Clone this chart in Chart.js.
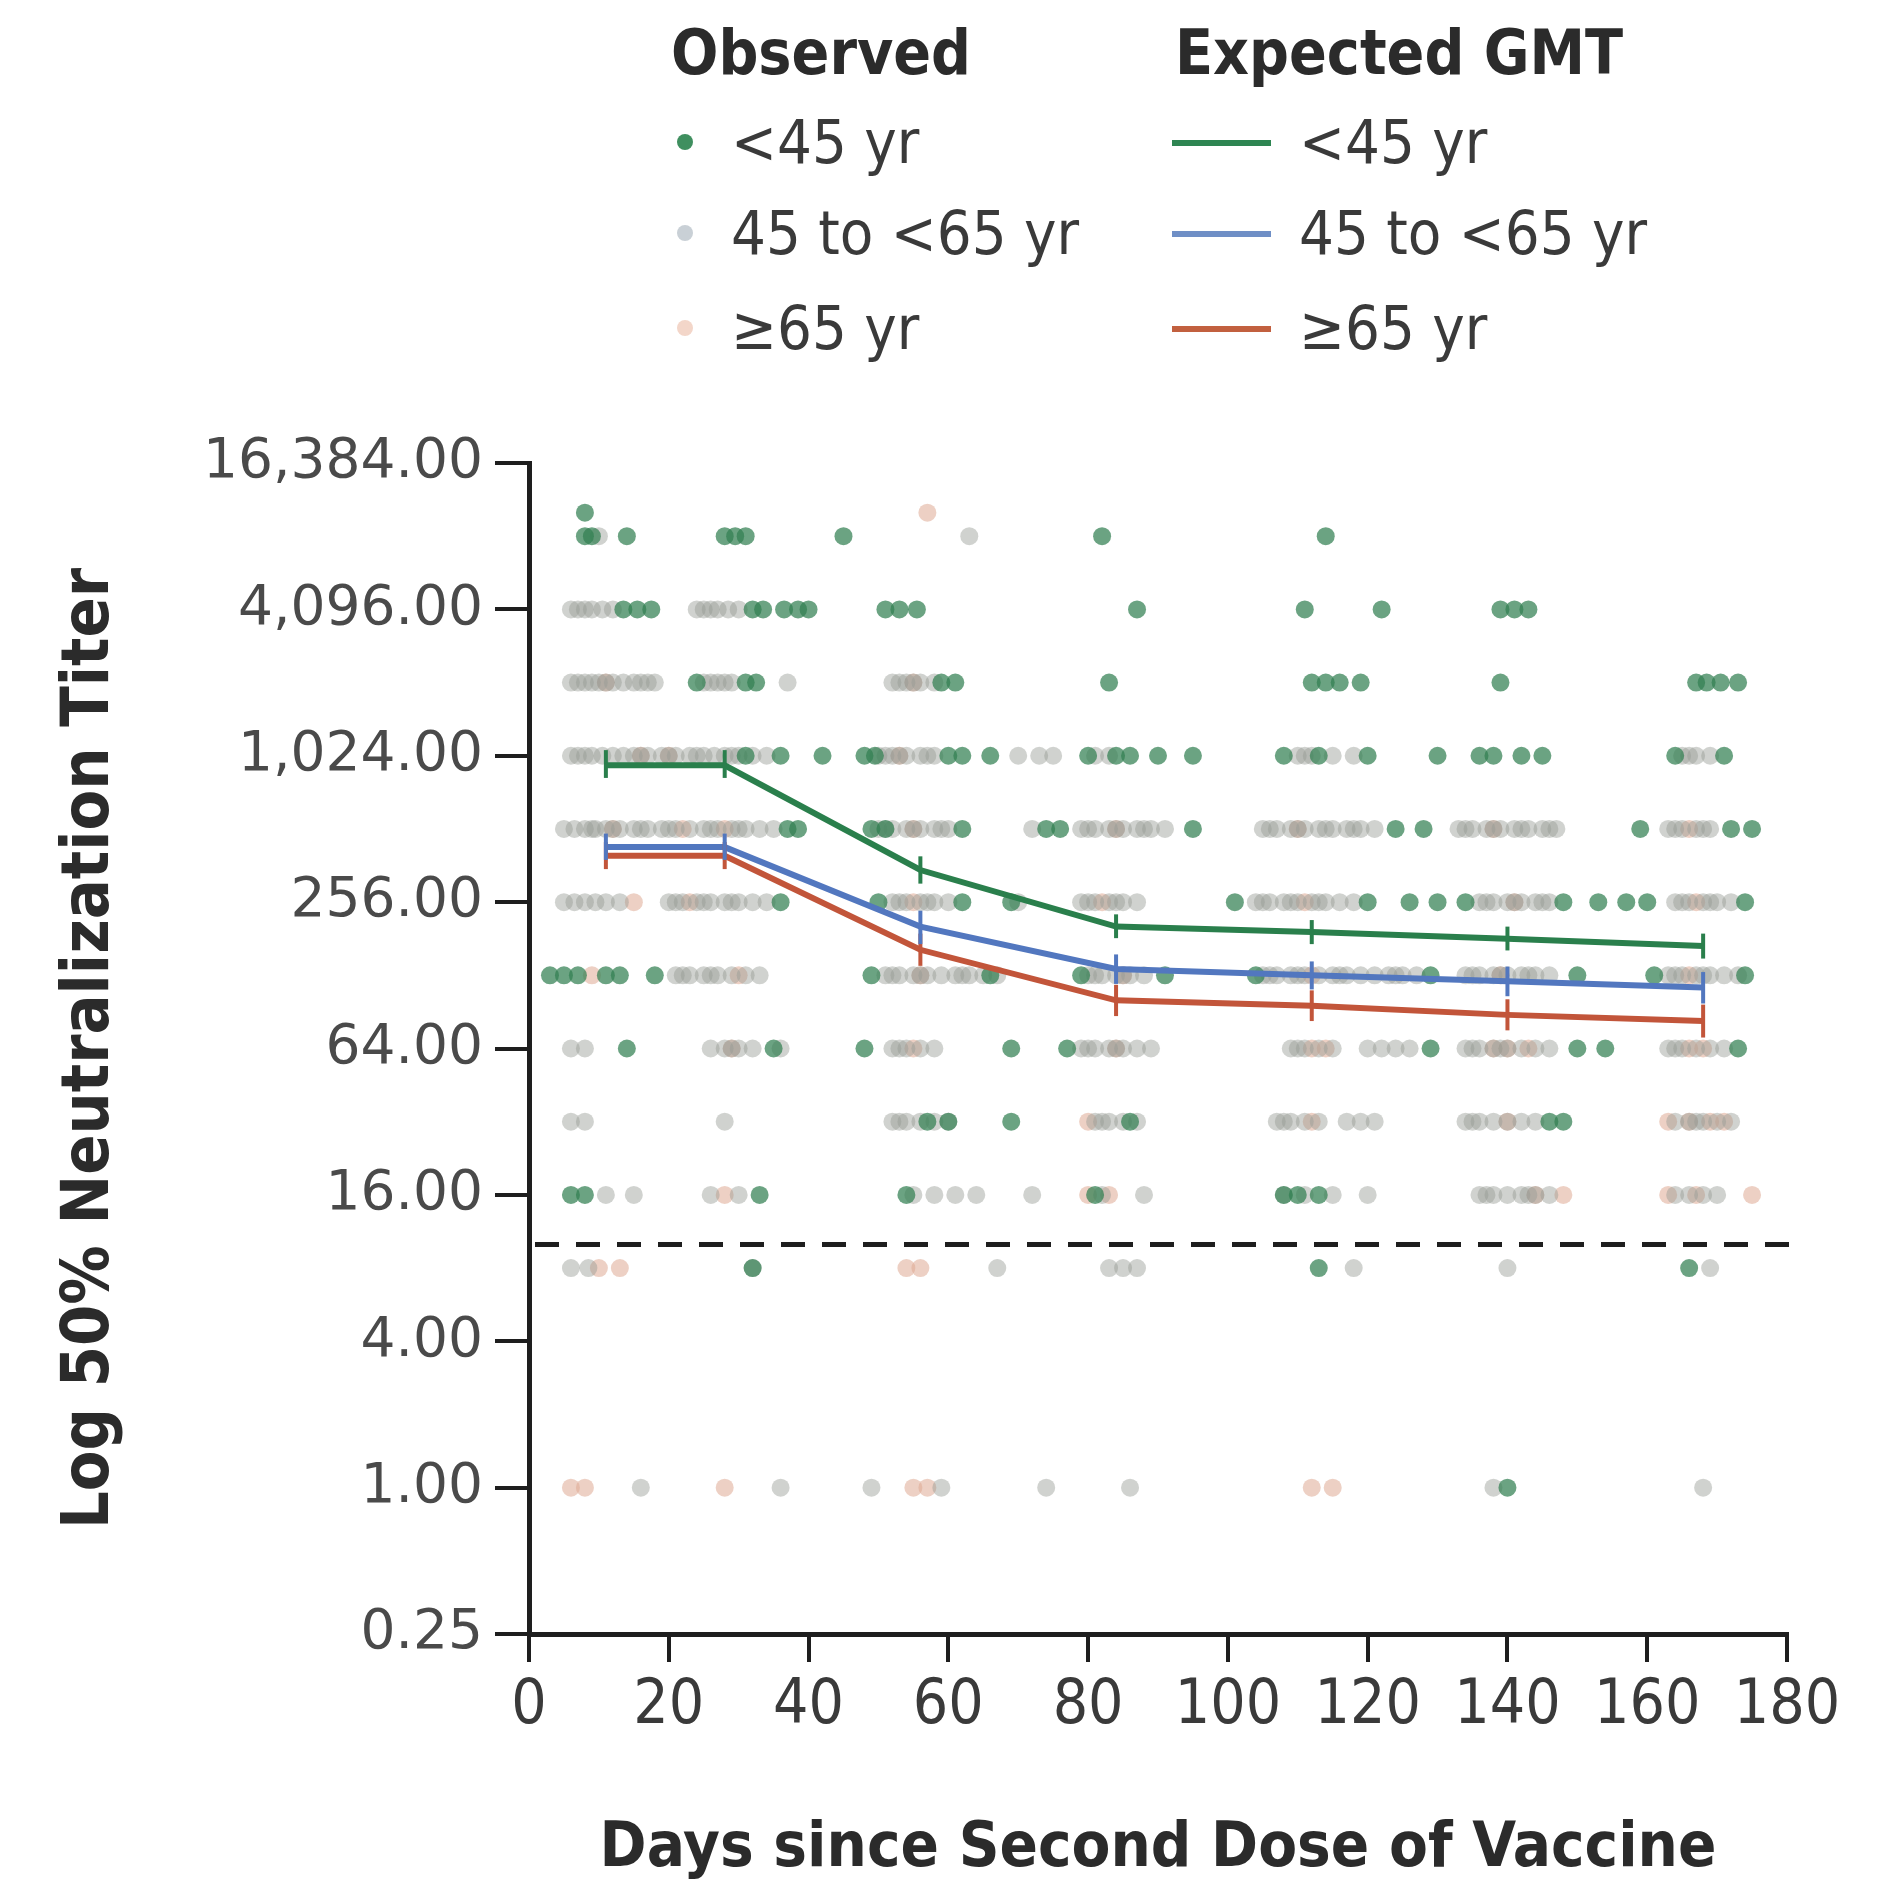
<!DOCTYPE html>
<html>
<head>
<meta charset="utf-8">
<script src="https://cdn.jsdelivr.net/npm/chart.js@4/dist/chart.umd.min.js"></script>
<style>
  body { margin: 0; background: #fff; }
  #wrap { position: relative; width: 1895px; height: 1889px; }
  canvas { position: absolute; left: 0; top: 0; }
  .lg { position: absolute; font-family: "DejaVu Sans Condensed", "DejaVu Sans", sans-serif; font-size: 61px; line-height: 70px; color: #3a3a3a; white-space: nowrap; }
  .hdr { font-weight: bold; font-size: 62px; color: #2b2b2b; }
  .dot { position: absolute; width: 16px; height: 16px; border-radius: 50%; }
  .sw { position: absolute; width: 99px; height: 6px; }
</style>
</head>
<body>
<div id="wrap">
  <canvas id="chartTiter" width="1895" height="1889"></canvas>

  <div class="lg hdr" style="left:671px; top:18px;">Observed</div>
  <div class="lg hdr" style="left:1175px; top:18px;">Expected GMT</div>

  <span class="dot" style="left:677px; top:134px; background:#3f8f5f;"></span>
  <div class="lg" style="left:731px; top:107px;">&lt;45 yr</div>
  <span class="dot" style="left:677px; top:225px; background:#c9d0d6;"></span>
  <div class="lg" style="left:731px; top:198px;">45 to &lt;65 yr</div>
  <span class="dot" style="left:677px; top:320px; background:#f3d6c9;"></span>
  <div class="lg" style="left:731px; top:293px;">≥65 yr</div>

  <div class="sw" style="left:1172px; top:140px; background:#2e8552;"></div>
  <div class="lg" style="left:1299px; top:107px;">&lt;45 yr</div>
  <div class="sw" style="left:1172px; top:231px; background:#6f8fc6;"></div>
  <div class="lg" style="left:1299px; top:198px;">45 to &lt;65 yr</div>
  <div class="sw" style="left:1172px; top:326px; background:#c2603f;"></div>
  <div class="lg" style="left:1299px; top:293px;">≥65 yr</div>
</div>

<script>
// === Ejes ===
const yTicks = [0.25, 1, 4, 16, 64, 256, 1024, 4096, 16384];
const xTicks = [0, 20, 40, 60, 80, 100, 120, 140, 160, 180];
const lloq = 10;

// === Expected GMT (con IC) ===
const gmtDays = [11, 28, 56, 84, 112, 140, 168];
const gmtYoung = [935, 935, 347, 203, 193, 181, 169];
const gmtYoungLo = [830, 830, 305, 182, 172, 162, 150];
const gmtYoungHi = [1080, 1080, 395, 228, 216, 203, 190];
const gmtMid = [431, 431, 203, 136, 128, 121, 114];
const gmtMidLo = [382, 382, 172, 118, 112, 105, 98];
const gmtMidHi = [490, 490, 236, 156, 146, 139, 132];
const gmtOld = [397, 397, 163, 101, 96, 88, 83];
const gmtOldLo = [350, 350, 140, 87, 83, 76, 71];
const gmtOldHi = [452, 452, 190, 117, 111, 102, 97];

// === Observados: [titulo, [dias]] ===
const obsYoung = [
  [10240, [8]],
  [8192, [8, 9, 14, 28, 29.5, 31, 45, 82, 114]],
  [4096, [13.5, 15.5, 17.5, 32, 33.5, 36.5, 38.5, 40, 51, 53, 55.5, 87, 111, 122, 139, 141, 143]],
  [2048, [24, 31, 32.5, 59, 61, 83, 112, 114, 116, 119, 139, 167, 168.5, 170.5, 173]],
  [1024, [31, 36, 42, 48, 49.5, 60, 62, 66, 80, 84, 86, 90, 95, 108, 113, 120, 130, 136, 138, 142, 145, 164, 171]],
  [512, [37, 38.5, 49, 51, 62, 74, 76, 95, 124, 128, 159, 172, 175]],
  [256, [36, 50, 62, 69, 101, 120, 126, 130, 134, 148, 153, 157, 160, 174]],
  [128, [3, 5, 7, 11, 13, 18, 49, 66, 79, 91, 104, 129, 150, 161, 174]],
  [64, [14, 35, 48, 69, 77, 129, 150, 154, 173]],
  [32, [57, 60, 69, 86, 146, 148]],
  [16, [6, 8, 33, 54, 81, 108, 110, 113]],
  [8, [32, 113, 166]],
  [1, [140]]
];
const obsMid = [
  [8192, [10, 63]],
  [4096, [6, 7, 8, 9, 10.5, 12, 24, 25, 26, 27, 28.5, 30]],
  [2048, [6, 7, 8, 9, 10, 11, 12, 13.5, 15, 16, 17, 18, 25, 26, 27, 28, 29, 37, 52, 53, 54, 55, 56, 58]],
  [1024, [6, 7, 8, 9, 10.5, 12, 13.5, 15, 16, 17, 19, 20, 21, 23, 24, 25, 26.5, 28, 29, 30, 32, 34, 50, 51, 52, 53, 54, 56, 57, 58, 70, 73, 75, 81, 83, 110, 111, 112, 115, 118, 165, 166, 167, 169]],
  [512, [5, 6.5, 8, 9, 9.5, 11, 12, 13, 15, 16, 17, 19, 20, 21, 23, 25, 26, 27, 29, 30, 31, 33, 35, 50, 51, 52, 54, 55, 56, 58, 59, 60, 72, 79, 80, 81, 83, 84, 85, 87, 88, 89, 91, 105, 106, 107, 109, 110, 111, 113, 114, 115, 117, 118, 119, 121, 133, 134, 135, 137, 138, 139, 141, 142, 143, 145, 146, 147, 163, 164, 165, 167, 168, 169]],
  [256, [5, 6.5, 8, 9.5, 11, 13, 20, 21, 22, 24, 25, 26, 28, 29, 30, 32, 34, 52, 53, 54, 56, 57, 58, 60, 70, 79, 80, 81, 83, 84, 85, 87, 104, 105, 106, 108, 109, 110, 112, 113, 114, 116, 118, 136, 137, 138, 140, 141, 142, 144, 145, 146, 164, 165, 166, 168, 169, 170, 172]],
  [128, [21, 22, 23, 25, 26, 27, 29, 31, 33, 51, 52, 53, 55, 56, 57, 59, 61, 62, 63, 65, 67, 80, 81, 82, 84, 85, 86, 88, 105, 106, 107, 109, 110, 111, 113, 115, 116, 117, 119, 121, 123, 124, 125, 127, 134, 135, 136, 138, 139, 140, 142, 143, 144, 146, 163, 164, 165, 167, 168, 169, 171, 173]],
  [64, [6, 8, 26, 28, 29, 30, 32, 36, 52, 53, 54, 56, 58, 79, 80, 81, 83, 84, 85, 87, 89, 109, 110, 111, 113, 115, 120, 122, 124, 126, 134, 135, 136, 138, 139, 140, 142, 144, 146, 163, 164, 165, 167, 169, 171]],
  [32, [6, 8, 28, 52, 53, 54, 56, 58, 60, 81, 82, 83, 85, 87, 107, 108, 109, 111, 113, 117, 119, 121, 134, 135, 136, 138, 140, 142, 144, 164, 166, 167, 168, 170, 172]],
  [16, [11, 15, 26, 30, 55, 58, 61, 64, 72, 82, 88, 108, 111, 115, 120, 136, 137, 138, 140, 142, 143, 144, 146, 164, 166, 168, 170]],
  [8, [6, 8.5, 32, 67, 83, 85, 87, 118, 140, 169]],
  [1, [16, 36, 49, 59, 74, 86, 138, 168]]
];
const obsOld = [
  [10240, [57]],
  [2048, [11, 55]],
  [1024, [16, 20, 53]],
  [512, [12, 22, 28, 55, 84, 110, 138, 166]],
  [256, [15, 23, 55, 82, 111, 141, 167]],
  [128, [9, 30, 56, 85, 112, 139, 166]],
  [64, [29, 55, 84, 112, 114, 138, 140, 143, 166, 168]],
  [32, [80, 112, 140, 163, 166, 169, 171]],
  [16, [28, 80, 83, 144, 148, 163, 167, 175]],
  [8, [10, 13, 54, 56]],
  [1, [6, 8, 28, 55, 57, 112, 115]]
];

// === Colores ===
const verde = "#2a7f4c";
const azul = "#5277bf";
const rojo = "#c2553a";
const tinta = "#1e1e1e";

function puntos(filas) {
  const out = [];
  filas.forEach(([titulo, dias]) => dias.forEach(d => out.push({ x: d, y: titulo })));
  return out;
}
function serie(valores) {
  return gmtDays.map((d, i) => ({ x: d, y: valores[i] }));
}

// barras de IC y linea LLOQ
const extras = {
  id: "extras",
  afterDatasetsDraw(chart) {
    const { ctx, chartArea } = chart;
    const xs = chart.scales.x, ys = chart.scales.y;
    const grupos = [[gmtOldLo, gmtOldHi, rojo], [gmtMidLo, gmtMidHi, azul], [gmtYoungLo, gmtYoungHi, verde]];
    ctx.save();
    ctx.lineWidth = 4;
    grupos.forEach(([lo, hi, color]) => {
      ctx.strokeStyle = color;
      gmtDays.forEach((d, i) => {
        const px = xs.getPixelForValue(d);
        ctx.beginPath();
        ctx.moveTo(px, ys.getPixelForValue(lo[i]));
        ctx.lineTo(px, ys.getPixelForValue(hi[i]));
        ctx.stroke();
      });
    });
    const py = ys.getPixelForValue(lloq);
    ctx.strokeStyle = tinta;
    ctx.lineWidth = 5;
    ctx.setLineDash([24, 17]);
    ctx.beginPath();
    ctx.moveTo(chartArea.left + 6, py);
    ctx.lineTo(chartArea.right + 6, py);
    ctx.stroke();
    ctx.restore();
  }
};

new Chart(document.getElementById("chartTiter"), {
  type: "line",
  data: {
    datasets: [
      { type: "line", label: "<45 yr", data: serie(gmtYoung), borderColor: verde, borderWidth: 6, pointRadius: 0, order: 0 },
      { type: "line", label: "45 to <65 yr", data: serie(gmtMid), borderColor: azul, borderWidth: 6, pointRadius: 0, order: 0 },
      { type: "line", label: "≥65 yr", data: serie(gmtOld), borderColor: rojo, borderWidth: 6, pointRadius: 0, order: 0 },
      { type: "scatter", label: "<45 yr obs", data: puntos(obsYoung), backgroundColor: "rgba(50,128,82,0.72)", pointRadius: 9, borderWidth: 0, order: 1 },
      { type: "scatter", label: "45 to <65 yr obs", data: puntos(obsMid), backgroundColor: "rgba(150,156,148,0.45)", pointRadius: 9, borderWidth: 0, order: 2 },
      { type: "scatter", label: "≥65 yr obs", data: puntos(obsOld), backgroundColor: "rgba(222,170,148,0.55)", pointRadius: 9, borderWidth: 0, order: 3 }
    ]
  },
  options: {
    responsive: false,
    animation: false,
    layout: { padding: { top: 463, right: 108, left: 0, bottom: 0 } },
    plugins: { legend: { display: false }, tooltip: { enabled: false } },
    scales: {
      x: {
        type: "linear",
        min: 0,
        max: 180,
        afterFit(s) { s.height = 255; },
        afterBuildTicks(s) { s.ticks = xTicks.map(v => ({ value: v })); },
        grid: { drawOnChartArea: false, color: tinta, lineWidth: 4, tickLength: 28 },
        border: { color: tinta, width: 5 },
        ticks: { color: "#3a3a3a", padding: 8, font: { family: "DejaVu Sans Condensed", size: 62 } },
        title: {
          display: true,
          text: "Days since Second Dose of Vaccine",
          color: "#2b2b2b",
          font: { family: "DejaVu Sans Condensed", size: 63, weight: "bold", lineHeight: 1 },
          padding: { top: 0, bottom: 8 }
        }
      },
      y: {
        type: "logarithmic",
        min: 0.25,
        max: 16384,
        afterFit(s) { s.width = 529; },
        afterBuildTicks(s) { s.ticks = yTicks.map(v => ({ value: v })); },
        grid: { drawOnChartArea: false, color: tinta, lineWidth: 4, tickLength: 34 },
        border: { color: tinta, width: 5 },
        ticks: {
          color: "#4a4a4a",
          padding: 12,
          font: { family: "DejaVu Sans", size: 55 },
          callback: v => v.toLocaleString("en-US", { minimumFractionDigits: 2, maximumFractionDigits: 2 })
        },
        title: {
          display: true,
          text: "Log 50% Neutralization Titer",
          color: "#2b2b2b",
          font: { family: "DejaVu Sans Condensed", size: 66, weight: "bold", lineHeight: 1 },
          padding: { top: 58, bottom: 0 }
        }
      }
    }
  },
  plugins: [extras]
});
</script>
</body>
</html>
